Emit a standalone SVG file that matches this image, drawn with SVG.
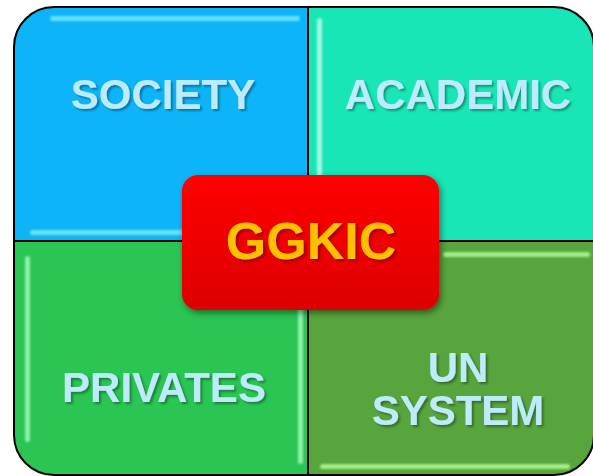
<svg xmlns="http://www.w3.org/2000/svg" width="593" height="476" viewBox="0 0 593 476">
<defs>
<filter id="ts" x="-10%" y="-20%" width="130%" height="150%"><feDropShadow dx="2" dy="2" stdDeviation="1" flood-color="#000" flood-opacity="0.35"/></filter>
<filter id="bs" x="-10%" y="-10%" width="130%" height="140%"><feDropShadow dx="2" dy="3" stdDeviation="3" flood-color="#000" flood-opacity="0.45"/></filter>
<filter id="blur" filterUnits="userSpaceOnUse" x="0" y="0" width="593" height="476"><feGaussianBlur stdDeviation="0.8"/></filter>
<linearGradient id="red" x1="0" y1="0" x2="0" y2="1"><stop offset="0" stop-color="#FF0000"/><stop offset="1" stop-color="#DC0000"/></linearGradient>
</defs>
<style>
.q{stroke:#000;stroke-width:2}
.lbl{font-family:"Liberation Sans",Arial,sans-serif;font-weight:bold;font-size:42px;fill:#BDEBFB;text-anchor:middle}
.hl{filter:url(#blur)}
</style>
<rect width="593" height="476" fill="#fff"/>
<g id="society">
<path class="q" d="M14,47 A40,40 0 0 1 54,7 L308,7 L308,241 L14,241 Z" fill="#0DB5F8"/>
<rect class="hl" x="50" y="16" width="250" height="5" rx="2.5" fill="#66E2FF"/>
<rect class="hl" x="30" y="230" width="160" height="5" rx="2.5" fill="#66E2FF"/>
<text class="lbl" x="163" y="109" filter="url(#ts)">SOCIETY</text>
</g>
<g id="academic">
<path class="q" d="M308,7 L554,7 A40,40 0 0 1 594,47 L594,241 L308,241 Z" fill="#18E6B6"/>
<rect class="hl" x="317" y="18" width="5" height="216" rx="2.5" fill="#A0F8E6"/>
<text class="lbl" x="458" y="109" filter="url(#ts)">ACADEMIC</text>
</g>
<g id="privates">
<path class="q" d="M14,241 L308,241 L308,475 L54,475 A40,40 0 0 1 14,435 Z" fill="#2AC553"/>
<rect class="hl" x="25" y="256" width="5" height="186" rx="2.5" fill="#90EFAA"/>
<rect class="hl" x="298" y="300" width="5" height="164" rx="2.5" fill="#90EFAA"/>
<text class="lbl" x="164" y="402" filter="url(#ts)">PRIVATES</text>
</g>
<g id="un-system">
<path class="q" d="M308,241 L594,241 L594,435 A40,40 0 0 1 554,475 L308,475 Z" fill="#57A53C"/>
<rect class="hl" x="443" y="252" width="147" height="5" rx="2.5" fill="#A2EE88"/>
<rect class="hl" x="320" y="464" width="250" height="5" rx="2.5" fill="#A2EE88"/>
<text class="lbl" x="458" y="382" filter="url(#ts)">UN</text>
<text class="lbl" x="458" y="425" filter="url(#ts)">SYSTEM</text>
</g>
<g id="connectors"/>
<g id="ggkic">
<rect x="182" y="175" width="257" height="135" rx="16" fill="url(#red)" filter="url(#bs)"/>
<text x="311" y="259" font-family="'Liberation Sans',Arial,sans-serif" font-weight="bold" font-size="52" fill="#FFC000" text-anchor="middle" filter="url(#ts)">GGKIC</text>
</g>
</svg>
